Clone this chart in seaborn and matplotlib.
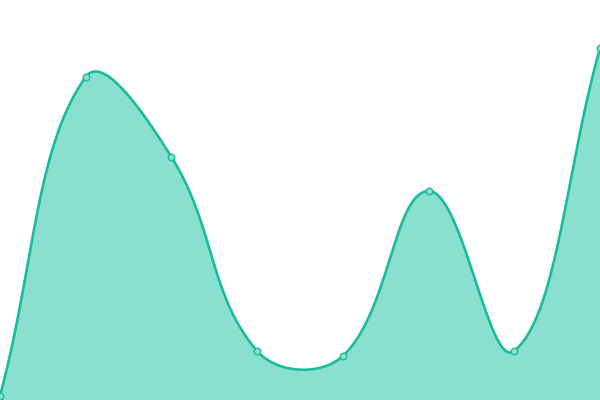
import numpy as np
import pandas as pd
import matplotlib
matplotlib.use("Agg")
import matplotlib.pyplot as plt
import seaborn as sns

# data (y axis 0..400)
positions = [0, 1, 2, 3, 4, 5, 6, 7]
values = [4, 323, 243, 49, 44, 209, 49, 352]

LINE = "#1abc9c"
FILL = "#8ae0cf"
TENSION = 0.4


def smooth_curve(xs, ys, sx, sy, tension=TENSION, n=40):
    """Chart.js-like bezier spline, control points computed in pixel space."""
    px = np.asarray(xs, float) * sx
    py = np.asarray(ys, float) * sy
    k = len(px)
    ctrl_prev = np.zeros((k, 2))
    ctrl_next = np.zeros((k, 2))
    for i in range(k):
        cur = np.array([px[i], py[i]])
        prev = np.array([px[max(i - 1, 0)], py[max(i - 1, 0)]])
        nxt = np.array([px[min(i + 1, k - 1)], py[min(i + 1, k - 1)]])
        d01 = np.hypot(*(cur - prev))
        d12 = np.hypot(*(nxt - cur))
        tot = d01 + d12
        fa = tension * d01 / tot if tot else 0
        fb = tension * d12 / tot if tot else 0
        ctrl_prev[i] = cur - fa * (nxt - prev)
        ctrl_next[i] = cur + fb * (nxt - prev)
    out_x, out_y = [], []
    t = np.linspace(0, 1, n)
    for i in range(k - 1):
        p0 = np.array([px[i], py[i]])
        p1 = ctrl_next[i]
        p2 = ctrl_prev[i + 1]
        p3 = np.array([px[i + 1], py[i + 1]])
        pts = ((1 - t) ** 3)[:, None] * p0 + (3 * (1 - t) ** 2 * t)[:, None] * p1 \
            + (3 * (1 - t) * t ** 2)[:, None] * p2 + (t ** 3)[:, None] * p3
        if i > 0:
            pts = pts[1:]
        out_x.extend(pts[:, 0] / sx)
        out_y.extend(pts[:, 1] / sy)
    return np.array(out_x), np.array(out_y)


sns.set_style("white")
fig = plt.figure(figsize=(6, 4), dpi=100)
ax = fig.add_axes([0, 0, 1, 1])

sx = 600 / 7
sy = 400 / 400
cx, cy = smooth_curve(positions, values, sx, sy)
curve = pd.DataFrame({"x": cx, "y": cy})
pts = pd.DataFrame({"x": positions, "y": values})

ax.fill_between(curve["x"], 0, curve["y"], color=FILL, linewidth=0)
sns.lineplot(data=curve, x="x", y="y", ax=ax, color=LINE, linewidth=1.9, sort=False)
sns.scatterplot(data=pts, x="x", y="y", ax=ax, s=22, color=FILL, edgecolor=LINE,
                linewidth=1.0, zorder=5, clip_on=True)

ax.set_xlim(0, 7)
ax.set_ylim(0, 400)
ax.axis("off")
fig.savefig("out.png", dpi=100)
